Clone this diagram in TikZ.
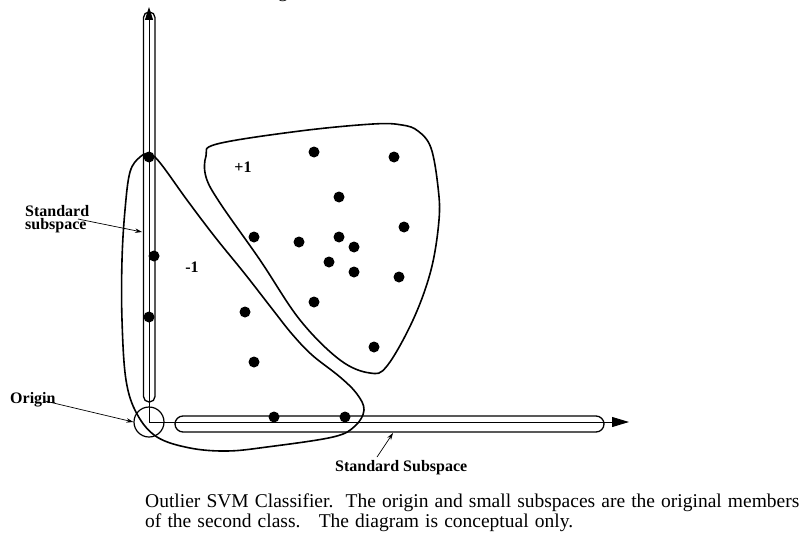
\documentclass[tikz,border=0pt]{standalone}
\usepackage{fontspec}
\setmainfont{Liberation Serif}
\newfontfamily\capfont[WordSpace=1.25]{Liberation Serif}
\usetikzlibrary{arrows.meta}
\begin{document}
\begin{tikzpicture}[x=1pt,y=-1pt,
  dot/.style={circle,fill=black,inner sep=0pt,minimum size=11pt},
  lab/.style={font=\fontsize{16}{14.5}\selectfont\bfseries,inner sep=0pt},
  captext/.style={font=\capfont\fontsize{19.5}{20}\selectfont,inner sep=0pt,anchor=base west},
  tube/.style={line width=1.3pt},
  region/.style={line width=1.6pt},
  ptr/.style={line width=0.7pt,-{Stealth[length=7pt,width=4.5pt]}},
  axis/.style={line width=0.9pt}]
\useasboundingbox (0,0) rectangle (802,532);
% partial text at top edge
\node[captext] (topcut) at (278,-2) {g};
% axes
\coordinate (O) at (149,422);
\coordinate (ytip) at (149,7);
\coordinate (xtip) at (629,422);
\draw[axis,-{Triangle[length=13pt,width=8pt]}] (O) -- (ytip);
\draw[axis,-{Triangle[length=17pt,width=10pt]}] (O) -- (xtip);
% tubes
\draw[tube,rounded corners=5.5pt] (143.5,12) rectangle (155,402);
\draw[tube,rounded corners=8pt] (175,416) rectangle (604,432);
% origin circle
\node[draw,circle,line width=1.2pt,minimum size=30pt,inner sep=0pt] (origin) at (O) {};
% -1 region
\draw[region] plot[smooth cycle,tension=0.6] coordinates {
 (140,157) (130,172) (125,210) (122,260) (122,320) (126,380) (137,414) (157,437)
 (190,448) (227,451) (267,447) (333,437) (355,426) (364,410) (357,394) (340,377)
 (312,355) (292,334) (273,310) (245,274) (215,237) (187,200) (161,164) (150,154)};
% +1 region
\draw[region] plot[smooth cycle,tension=0.6] coordinates {
 (217,144) (300,131) (373,124) (402,125) (418,131) (431,148) (438,187) (439,220)
 (431,270) (413,320) (387,366) (370,373) (340,360) (300,320) (260,260) (220,203)
 (206,177) (206,156)};
% dots on subspaces
\node[dot] (v1) at (149,157) {};
\node[dot] (v2) at (154,256) {};
\node[dot] (v3) at (149,317) {};
\node[dot] (h1) at (274,417) {};
\node[dot] (h2) at (345,417) {};
% -1 dots
\node[dot] (m1) at (245,312) {};
\node[dot] (m2) at (254,362) {};
% +1 dots
\node[dot] (p1) at (314,152) {};
\node[dot] (p2) at (394,157) {};
\node[dot] (p3) at (339,197) {};
\node[dot] (p4) at (404,227) {};
\node[dot] (p5) at (254,237) {};
\node[dot] (p6) at (299,242) {};
\node[dot] (p7) at (339,237) {};
\node[dot] (p8) at (354,247) {};
\node[dot] (p9) at (329,262) {};
\node[dot] (p10) at (354,272) {};
\node[dot] (p11) at (399,277) {};
\node[dot] (p12) at (314,302) {};
\node[dot] (p13) at (374,347) {};
% class labels
\node[lab] (plus) at (243,167) {+1};
\node[lab] (minus) at (192,267) {-1};
% labels with pointers
\node[lab,anchor=base west] (std1) at (25,216.5) {Standard};
\node[lab,anchor=base west] (std2) at (25,229.5) {subspace};
\coordinate (stdtip) at (142,232);
\draw[ptr] (78,219) -- (stdtip);
\node[lab,anchor=base west] (orig) at (10,403) {Origin};
\coordinate (origtail) at (45,401);
\draw[ptr] (origtail) -- (origin.west);
\node[lab,anchor=base west] (stdS) at (335,471) {Standard Subspace};
\coordinate (stdStip) at (393,433);
\draw[ptr] (377,457) -- (stdStip);
% caption
\node[captext] (cap1) at (145,507) {Outlier SVM Classifier.\ \ The origin and small subspaces are the original members};
\node[captext] (cap2) at (145,527) {of the second class.\ \ \ The diagram is conceptual only.};
\end{tikzpicture}
\end{document}
